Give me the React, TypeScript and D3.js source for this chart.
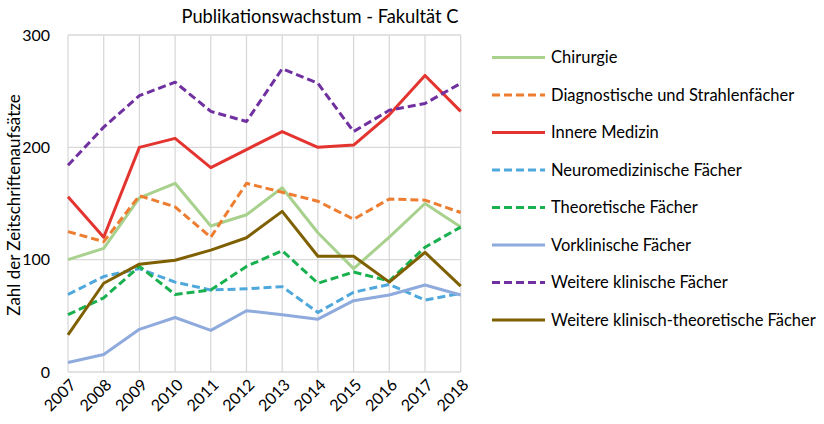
import React from "react";
import * as d3 from "d3";

const years = ["2007","2008","2009","2010","2011","2012","2013","2014","2015","2016","2017","2018"];
const chirurgie = [100,110,155,168,130,140,164,124,92,120,150,129];
const diagnostische = [125,116,157,147,120,168,160,152,136,154,153,142];
const innere = [156,120,200,208,182,198,214,200,202,229,264,232];
const neuro = [69,85,92,80,73,74,76,53,71,78,64,70];
const theoretische = [51,66,94,69,73,94,108,79,89,81,111,129];
const vorklinische = [8.5,15.5,38,48.5,37,54.5,51,47,63.5,68.5,77.5,68.5];
const weitereKlinisch = [184,218,246,258,232,223,270,257,214,233,239,257];
const weitereKlinTheo = [33,79,96,99.5,108.5,119.5,143,103,103,80,106.5,76.5];
const yTicks = [0,100,200,300];

const seriesNames = [
  "Chirurgie",
  "Diagnostische und Strahlenfächer",
  "Innere Medizin",
  "Neuromedizinische Fächer",
  "Theoretische Fächer",
  "Vorklinische Fächer",
  "Weitere klinische Fächer",
  "Weitere klinisch-theoretische Fächer",
];
const seriesValues = [chirurgie, diagnostische, innere, neuro, theoretische, vorklinische, weitereKlinisch, weitereKlinTheo];
const seriesColors = ["#a9d18e","#ed7d31","#e3342f","#4fa8dc","#19b04f","#8faadc","#7030a0","#7f6000"];
const seriesDashed = [false,true,false,true,true,false,true,false];

export default function App() {
  const x = d3.scalePoint<string>().domain(years).range([68, 460.7]);
  const y = d3.scaleLinear().domain([0, 300]).range([372, 35]);
  const line = d3.line<number>().x((_, i) => x(years[i]) as number).y((d) => y(d));
  const font = "Lato, 'Open Sans', sans-serif";
  return (
    <svg width={824} height={424} style={{ position: "absolute", left: 0, top: 0, background: "#fff" }} fontFamily={font}>
      <rect width={824} height={424} fill="#fff" />
      <text x={320} y={23} textAnchor="middle" fontSize={18.3} fill="#000">Publikationswachstum - Fakultät C</text>
      {yTicks.map((t) => (
        <line key={"h" + t} x1={68} x2={460.7} y1={y(t)} y2={y(t)} stroke="#d9d9d9" strokeWidth={1.3} />
      ))}
      {years.map((yr) => (
        <line key={"v" + yr} x1={x(yr)} x2={x(yr)} y1={y(300)} y2={y(0)} stroke="#d9d9d9" strokeWidth={1.3} />
      ))}
      {yTicks.map((t) => (
        <text key={"yt" + t} x={50} y={y(t)} dy="0.36em" textAnchor="end" fontSize={16} fill="#000">{t}</text>
      ))}
      {years.map((yr) => (
        <text key={"xt" + yr} transform={`translate(${(x(yr) as number) + 5},${382}) rotate(-45)`} textAnchor="end" dy="0.35em" fontSize={16} fill="#000">{yr}</text>
      ))}
      <text transform="translate(20,205) rotate(-90)" textAnchor="middle" fontSize={17} fill="#000">Zahl der Zeitschriftenaufsätze</text>
      {seriesValues.map((vals, i) => (
        <path key={"s" + i} d={line(vals) || ""} fill="none" stroke={seriesColors[i]} strokeWidth={3}
          strokeDasharray={seriesDashed[i] ? "8,4" : undefined} strokeLinejoin="round" />
      ))}
      {seriesNames.map((name, i) => {
        const ly = 57.5 + i * 37.5;
        return (
          <g key={"lg" + i}>
            <line x1={492} x2={545} y1={ly} y2={ly} stroke={seriesColors[i]} strokeWidth={3}
              strokeDasharray={seriesDashed[i] ? "8,4" : undefined} />
            <text x={551} y={ly} dy="0.35em" fontSize={16.5} fill="#000">{name}</text>
          </g>
        );
      })}
    </svg>
  );
}
